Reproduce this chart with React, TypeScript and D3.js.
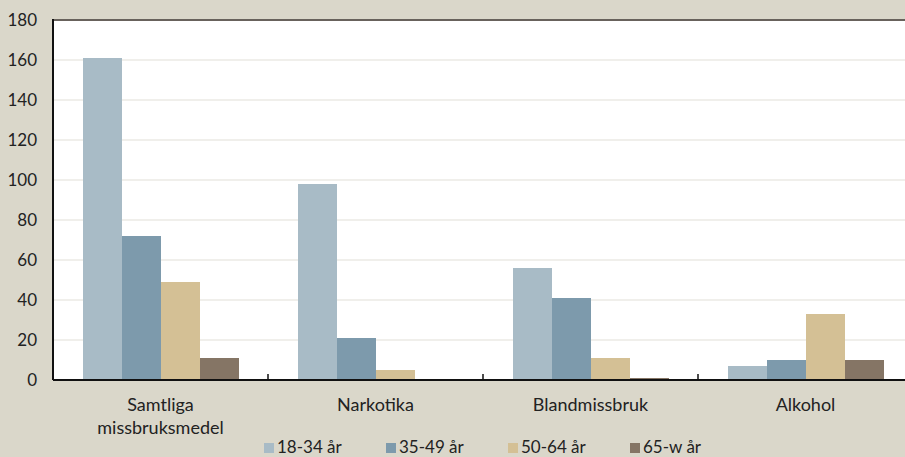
import React, { useEffect, useRef } from 'react';
import * as d3 from 'd3';

const categories = [['Samtliga', 'missbruksmedel'], ['Narkotika'], ['Blandmissbruk'], ['Alkohol']];
const seriesNames = ['18-34 år', '35-49 år', '50-64 år', '65-w år'];
const seriesColors = ['#a8bbc6', '#7d9aac', '#d4c095', '#857565'];
const values = [
  [161, 72, 49, 11],
  [98, 21, 5, 0],
  [56, 41, 11, 1],
  [7, 10, 33, 10],
];
const yTicks = [0, 20, 40, 60, 80, 100, 120, 140, 160, 180];

const App = () => {
  const svgRef = useRef<SVGSVGElement>(null);

  useEffect(() => {
    const width = 905;
    const height = 457;
    const margin = { top: 20, right: -8, bottom: 77, left: 53 };
    const font = 'Lato, "DejaVu Sans", sans-serif';

    const svg = d3.select(svgRef.current);
    svg.selectAll('*').remove();
    svg.attr('width', width).attr('height', height);

    svg.append('rect').attr('width', width).attr('height', height).attr('fill', '#dad7ca');

    const x = d3.scaleBand<number>()
      .domain(categories.map((_, i) => i))
      .range([margin.left, width - margin.right]);

    const inner = d3.scaleBand<number>()
      .domain(seriesNames.map((_, i) => i))
      .range([30, 30 + 39 * 4]);

    const y = d3.scaleLinear()
      .domain([0, 180])
      .range([height - margin.bottom, margin.top]);

    // plot area
    svg.append('rect')
      .attr('x', margin.left)
      .attr('y', margin.top)
      .attr('width', width - margin.left)
      .attr('height', y(0) - margin.top)
      .attr('fill', '#ffffff');

    // gridlines
    svg.append('g')
      .selectAll('line')
      .data(yTicks.filter(t => t > 0 && t < 180))
      .enter().append('line')
      .attr('x1', margin.left)
      .attr('x2', width)
      .attr('y1', d => y(d))
      .attr('y2', d => y(d))
      .attr('stroke', '#e2e0d8')
      .attr('stroke-width', 1.2);

    // top border
    svg.append('line')
      .attr('x1', margin.left)
      .attr('x2', width)
      .attr('y1', y(180))
      .attr('y2', y(180))
      .attr('stroke', '#68625c')
      .attr('stroke-width', 2);

    // bars
    const group = svg.append('g')
      .selectAll('g')
      .data(values)
      .enter().append('g')
      .attr('transform', (_, i) => `translate(${x(i)},0)`);

    group.selectAll('rect')
      .data(d => d)
      .enter().append('rect')
      .attr('x', (_, j) => inner(j)!)
      .attr('width', inner.bandwidth())
      .attr('y', d => y(d))
      .attr('height', d => y(0) - y(d))
      .attr('fill', (_, j) => seriesColors[j]);

    // axes
    svg.append('line')
      .attr('x1', margin.left)
      .attr('x2', width)
      .attr('y1', y(0))
      .attr('y2', y(0))
      .attr('stroke', '#111')
      .attr('stroke-width', 2);

    svg.append('line')
      .attr('x1', margin.left)
      .attr('x2', margin.left)
      .attr('y1', margin.top - 1)
      .attr('y2', y(0))
      .attr('stroke', '#111')
      .attr('stroke-width', 2);

    // category separators
    svg.append('g')
      .selectAll('line')
      .data(categories.slice(1).map((_, i) => i + 1))
      .enter().append('line')
      .attr('x1', d => x(d)!)
      .attr('x2', d => x(d)!)
      .attr('y1', y(0))
      .attr('y2', y(0) - 6)
      .attr('stroke', '#111')
      .attr('stroke-width', 1.5);

    // y labels
    svg.append('g')
      .selectAll('text')
      .data(yTicks)
      .enter().append('text')
      .attr('x', 37)
      .attr('y', d => y(d) + 6)
      .attr('text-anchor', 'end')
      .attr('font-family', font)
      .attr('font-size', 17)
      .attr('fill', '#222')
      .text(d => d);

    // category labels
    const catText = svg.append('g')
      .selectAll('text')
      .data(categories)
      .enter().append('text')
      .attr('x', (_, i) => x(i)! + x.bandwidth() / 2)
      .attr('y', 411)
      .attr('text-anchor', 'middle')
      .attr('font-family', font)
      .attr('font-size', 18)
      .attr('fill', '#222');

    catText.selectAll('tspan')
      .data(d => d)
      .enter().append('tspan')
      .attr('x', function () {
        return (this.parentNode as SVGTextElement).getAttribute('x');
      })
      .attr('dy', (_, k) => (k === 0 ? 0 : 23))
      .text(d => d);

    // legend
    const legend = svg.append('g')
      .selectAll('g')
      .data(seriesNames)
      .enter().append('g')
      .attr('transform', (_, i) => `translate(${264 + i * 122},443)`);

    legend.append('rect')
      .attr('width', 10)
      .attr('height', 10)
      .attr('fill', (_, i) => seriesColors[i]);

    legend.append('text')
      .attr('x', 13)
      .attr('y', 10)
      .attr('font-family', font)
      .attr('font-size', 17)
      .attr('fill', '#222')
      .text(d => d);
  }, []);

  return (
    <div style={{ position: 'absolute', left: 0, top: 0 }}>
      <svg ref={svgRef} style={{ display: 'block' }}></svg>
    </div>
  );
};

export default App;
